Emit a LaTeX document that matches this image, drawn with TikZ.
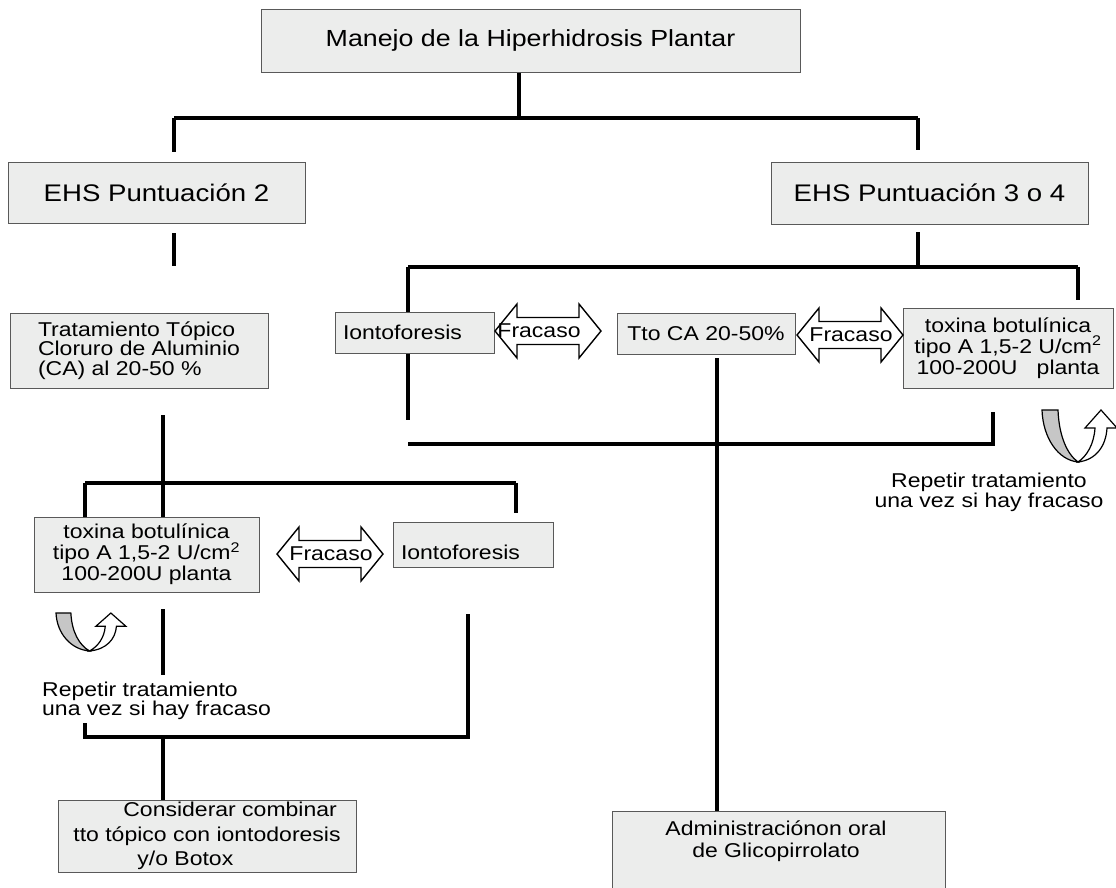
\documentclass[tikz,border=0pt]{standalone}
\usepackage{fontspec}
\setmainfont{Liberation Sans}[FakeStretch=1.15]
\usetikzlibrary{shadows}

\tikzstyle{box}=[draw=black!65, fill=boxfill, line width=1pt, inner sep=0pt,
                 drop shadow={shadow xshift=1.2pt, shadow yshift=-1.2pt, fill=black!55, opacity=1}]
\tikzstyle{conn}=[line width=3.2pt]
\definecolor{boxfill}{HTML}{ECEDEC}
\definecolor{turngray}{HTML}{C6C6C6}

\tikzset{
  fracaso/.pic={
    \draw[line width=1.4pt, fill=white]
      (-53,0) -- (-31,-27) -- (-31,-13.5) -- (31,-13.5) -- (31,-27) -- (53,0)
      -- (31,27) -- (31,13.5) -- (-31,13.5) -- (-31,27) -- cycle;
    \node (-txt) at (#1,0) {Fracaso};
  },
  fracaso/.default=0,
  repetir/.pic={
    \draw[line width=1.2pt, fill=turngray]
      (0,0) -- (16,0) .. controls (17,26) and (25,44) .. (36,52)
      .. controls (16,50) and (1,28) .. (0,0) -- cycle;
    \draw[line width=1.2pt, fill=white]
      (36,52) .. controls (54,50) and (64,36) .. (65,18) -- (75,18) -- (59,0)
      -- (43,18) -- (53,18) .. controls (52,34) and (45,46) .. (36,52) -- cycle;
  }
}

\begin{document}
\begin{tikzpicture}[x=1pt, y=-1pt, font=\fontsize{20}{21}\selectfont]
      \useasboundingbox (0,0) rectangle (1116,887);

      \node (top) at (530.5, 40.5)
            [box, minimum width=539pt, minimum height=63pt, font=\fontsize{23.3}{25}\selectfont] {Manejo de la Hiperhidrosis Plantar};
      \node (ehs2) at (156.5, 192.5)
            [box, minimum width=297pt, minimum height=61pt, font=\fontsize{24}{26}\selectfont] {EHS Puntuación 2};
      \node (ehs34) at (929.5, 193)
            [box, minimum width=317pt, minimum height=62pt, font=\fontsize{24}{26}\selectfont] {EHS Puntuación 3 o 4};
      \node (topico) at (139, 350.5)
            [box, minimum width=258pt, minimum height=75pt, align=left, font=\fontsize{20}{19.5}\selectfont] {Tratamiento Tópico\\Cloruro de Aluminio\\(CA) al 20-50 \%};
      \node (ionto1) at (414.5, 332.5)
            [box, text width=143pt, inner xsep=8pt, minimum height=41pt, align=left] {Iontoforesis};
      \node (ttoca) at (706, 333.5)
            [box, minimum width=178pt, minimum height=41pt] {Tto CA 20-50\%};
      \node (toxina1) at (1008, 348)
            [box, minimum width=210pt, minimum height=80pt, align=center] {toxina botulínica\\tipo A 1,5-2 U/cm\textsuperscript{2}\\100-200U\ \ \ planta};
      \node (toxina2) at (146.5, 554.5)
            [box, minimum width=225pt, minimum height=75pt, align=center] {toxina botulínica\\tipo A 1,5-2 U/cm\textsuperscript{2}\\100-200U planta};
      \node (ionto2) at (473, 544.5)
            [box, text width=144pt, inner xsep=8pt, inner ysep=7pt, text height=30pt, text depth=1pt, align=left] {Iontoforesis};
      \node (considerar) at (207, 836)
            [box, minimum width=298pt, minimum height=72pt, align=left, font=\fontsize{20}{24.5}\selectfont] {\hspace*{50pt}Considerar combinar\\tto tópico con iontodoresis\\\hspace*{64pt}y/o Botox};
      \node (glico) at (778.5, 855.5)
            [box, minimum width=333pt, minimum height=89pt] {};
      \node (glicotxt) at (776, 841)
            [align=center, font=\fontsize{20}{22}\selectfont] {Administraciónon oral\\de Glicopirrolato};

      \node (nota1) at (989, 492)
            [align=center, font=\fontsize{20}{20}\selectfont] {Repetir tratamiento\\una vez si hay fracaso};
      \node (nota2) at (42, 701)
            [anchor=west, align=left, inner sep=0pt, font=\fontsize{20}{19}\selectfont] {Repetir tratamiento\\una vez si hay fracaso};

      \pic (fr1) at (548, 331) {fracaso=-9};
      \pic (fr2) at (850, 335) {fracaso};
      \pic (fr3) at (330, 554) {fracaso};
      \pic at (1042, 410) {repetir};
      \pic[xscale=0.93, yscale=0.73] at (56, 613) {repetir};

      \coordinate (split) at (519, 118);
      \coordinate (split-l) at (174, 118);
      \coordinate (split-r) at (918, 118);
      \coordinate (ehs2-in) at (174, 152);
      \coordinate (ehs34-in) at (918, 150);
      \coordinate (ehs2-out) at (174, 233);
      \coordinate (ehs2-end) at (174, 266);
      \coordinate (ehs34-out) at (918, 232);
      \coordinate (ehs34-end) at (918, 267);
      \coordinate (row-l) at (408, 267);
      \coordinate (row-r) at (1078, 267);
      \coordinate (toxina1-in) at (1078, 300);
      \coordinate (ionto1-end) at (408, 420);
      \coordinate (back-l) at (408, 444);
      \coordinate (back-r) at (993, 444);
      \coordinate (back-end) at (993, 412);
      \coordinate (ttoca-out) at (717, 358);
      \coordinate (topico-out) at (163, 415);
      \coordinate (low-l) at (85, 483);
      \coordinate (low-r) at (516, 483);
      \coordinate (ionto2-in) at (516, 513);
      \coordinate (toxina2-out) at (163, 609);
      \coordinate (toxina2-end) at (163, 675);
      \coordinate (ionto2-out) at (468, 614);
      \coordinate (join-r) at (468, 737);
      \coordinate (join-l) at (85, 737);
      \coordinate (join-end) at (85, 723);
      \coordinate (join-mid) at (163, 737);

      \draw[conn] (split |- top.south) -- (split);
      \draw[conn] (split-l) -- (split-r);
      \draw[conn] (split-l) -- (ehs2-in);
      \draw[conn] (split-r) -- (ehs34-in);
      \draw[conn] (ehs2-out) -- (ehs2-end);
      \draw[conn] (ehs34-out) -- (ehs34-end);
      \draw[conn] (row-l) -- (row-r);
      \draw[conn] (row-l) -- (row-l |- ionto1.north);
      \draw[conn] (row-r) -- (toxina1-in);
      \draw[conn] (row-l |- ionto1.south) -- (ionto1-end);
      \draw[conn] (back-end) -- (back-r) -- (back-l);
      \draw[conn] (ttoca-out) -- (ttoca-out |- glico.north);
      \draw[conn] (topico-out) -- (topico-out |- toxina2.north);
      \draw[conn] (low-l) -- (low-r);
      \draw[conn] (low-l) -- (low-l |- toxina2.north);
      \draw[conn] (low-r) -- (ionto2-in);
      \draw[conn] (toxina2-out) -- (toxina2-end);
      \draw[conn] (ionto2-out) -- (join-r) -- (join-l) -- (join-end);
      \draw[conn] (join-mid) -- (join-mid |- considerar.north);
    \end{tikzpicture}
\end{document}
